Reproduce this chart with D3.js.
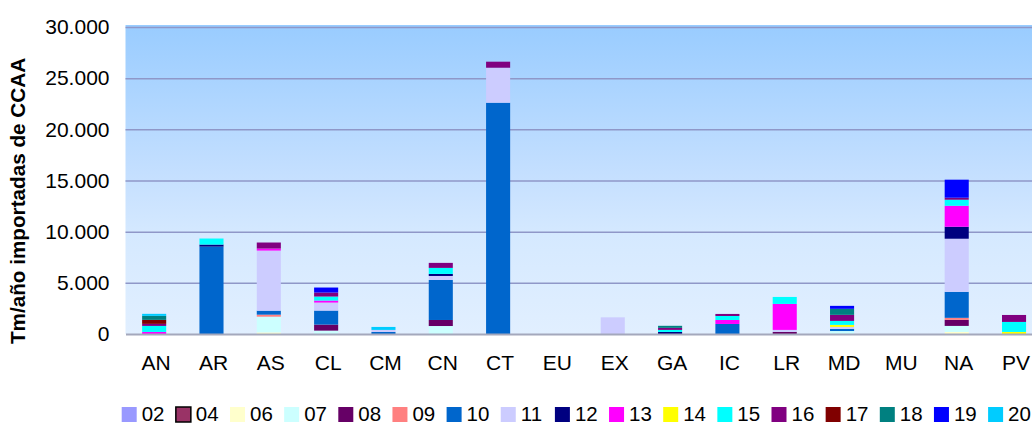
<!DOCTYPE html>
<html>
<head>
<meta charset="utf-8">
<script src="https://cdn.jsdelivr.net/npm/d3@7"></script>
<style>
  html, body { margin: 0; padding: 0; background: #fff; }
  svg { display: block; font-family: "Liberation Sans", Arial, sans-serif; }
</style>
</head>
<body>
<div id="chart"></div>
<script>
// Regions (CCAA) on the x axis.
const regions = ["AN", "AR", "AS", "CL", "CM", "CN", "CT", "EU", "EX", "GA", "IC", "LR", "MD", "MU", "NA", "PV"];

// Series codes, in stacking order (bottom to top).
const seriesKeys = ["02", "04", "06", "07", "08", "09", "10", "11", "12", "13", "14", "15", "16", "17", "18", "19", "20"];

// Values per series (Tm/año), one entry per region.
//                  AN   AR    AS    CL    CM   CN    CT     EU  EX    GA   IC   LR    MD   MU  NA    PV
const s02 = [       0,   0,    0,    0,    0,   0,    0,     0,  0,    0,   0,   0,    0,   0,  0,    0];
const s04 = [       0,   0,    0,    0,    0,   0,    0,     0,  0,    0,   0,   0,    0,   0,  0,    0];
const s06 = [       0,   0,    160,  0,    0,   0,    0,     0,  0,    0,   0,   0,    0,   0,  200,  0];
const s07 = [       0,   0,    1530, 330,  0,   780,  0,     0,  0,    0,   0,   0,    290, 0,  590,  0];
const s08 = [       0,   0,    0,    590,  0,   590,  0,     0,  0,    0,   0,   200,  0,   0,  590,  0];
const s09 = [       0,   0,    200,  0,    0,   0,    0,     0,  0,    0,   0,   0,    0,   0,  200,  0];
const s10 = [       0,   8540, 390,  1370, 200, 3910, 22600, 0,  0,    0,   980, 0,    200, 0,  2540, 0];
const s11 = [       0,   0,    5870, 780,  200, 390,  3420,  0,  1630, 0,   0,   200,  200, 0,  5190, 0];
const s12 = [       0,   200,  0,    0,    0,   200,  0,     0,  0,    200, 0,   0,    0,   0,  1170, 0];
const s13 = [       200, 0,    200,  200,  0,   0,    0,     0,  0,    0,   390, 2540, 0,   0,  2050, 0];
const s14 = [       0,   0,    0,    0,    0,   0,    0,     0,  0,    0,   0,   0,    200, 0,  0,    200];
const s15 = [       590, 590,  0,    390,  0,   590,  0,     0,  0,    200, 390, 680,  390, 0,  590,  980];
const s16 = [       200, 0,    590,  390,  0,   490,  590,   0,  0,    200, 200, 0,    590, 0,  200,  680];
const s17 = [       390, 0,    0,    0,    0,   0,    0,     0,  0,    0,   0,   0,    0,   0,  0,    0];
const s18 = [       390, 0,    0,    0,    0,   0,    0,     0,  0,    200, 0,   0,    590, 0,  0,    0];
const s19 = [       0,   0,    0,    490,  0,   0,    0,     0,  0,    0,   0,   0,    290, 0,  1760, 0];
const s20 = [       200, 0,    0,    0,    290, 0,    0,     0,  0,    0,   0,   0,    0,   0,  0,    0];

const seriesValues = [s02, s04, s06, s07, s08, s09, s10, s11, s12, s13, s14, s15, s16, s17, s18, s19, s20];

// Y axis tick values and their labels (Spanish thousands separator).
const yTicks = [0, 5000, 10000, 15000, 20000, 25000, 30000];
const yTickLabels = ["0", "5.000", "10.000", "15.000", "20.000", "25.000", "30.000"];

const yTitle = "Tm/año importadas de CCAA";

// Excel-style palette, one colour per series.
const seriesColors = ["#9999ff", "#993366", "#ffffcc", "#ccffff", "#660066", "#ff8080", "#0066cc", "#ccccff",
    "#000080", "#ff00ff", "#ffff00", "#00ffff", "#800080", "#800000", "#008080", "#0000ff", "#00ccff"];

function createStackedChart(width, height) {
    // Plot area (the right side runs past the window, as in the original).
    const plotLeft = 125.5;
    const plotRight = 1042.7;
    const plotTop = 27;
    const plotBottom = 334;

    // Build the table d3.stack needs from the named arrays.
    const table = regions.map((r, i) => {
        const row = { region: r };
        seriesKeys.forEach((k, j) => { row[k] = seriesValues[j][i]; });
        return row;
    });

    const stacked = d3.stack().keys(seriesKeys)(table);

    const x = d3.scaleBand()
        .domain(regions)
        .range([plotLeft, plotRight])
        .paddingInner(0.58)
        .paddingOuter(0.29);

    const y = d3.scaleLinear()
        .domain([0, 30000])
        .range([plotBottom, plotTop]);

    const color = d3.scaleOrdinal().domain(seriesKeys).range(seriesColors);

    const svg = d3.create("svg")
        .attr("width", width)
        .attr("height", height)
        .attr("viewBox", [0, 0, width, height]);

    // Vertical gradient for the plot background.
    const grad = svg.append("defs").append("linearGradient")
        .attr("id", "bg")
        .attr("x1", 0).attr("y1", 0).attr("x2", 0).attr("y2", 1);
    grad.append("stop").attr("offset", "0%").attr("stop-color", "#99ccff");
    grad.append("stop").attr("offset", "50%").attr("stop-color", "#c6e0ff");
    grad.append("stop").attr("offset", "68%").attr("stop-color", "#d5e9ff");
    grad.append("stop").attr("offset", "100%").attr("stop-color", "#e1efff");

    svg.append("rect")
        .attr("x", plotLeft)
        .attr("y", y(30000) - 2)
        .attr("width", plotRight - plotLeft)
        .attr("height", plotBottom - y(30000) + 2)
        .attr("fill", "url(#bg)");

    // Y axis: labels plus grid lines across the plot.
    svg.append("g")
        .attr("transform", `translate(${plotLeft},0)`)
        .call(d3.axisLeft(y).tickValues(yTicks).tickSize(0).tickPadding(16)
            .tickFormat((d, i) => yTickLabels[i]))
        .call(g => g.select(".domain").remove())
        .call(g => g.selectAll(".tick text")
            .attr("font-size", 21)
            .attr("font-family", "Liberation Sans, Arial, sans-serif")
            .attr("fill", "#000"))
        .call(g => g.selectAll(".tick").filter(d => d > 0).append("line")
            .attr("x2", plotRight - plotLeft)
            .attr("stroke", "#8f97c8")
            .attr("stroke-width", 1.5));

    // Stacked bars.
    svg.append("g")
        .selectAll("g")
        .data(stacked)
        .join("g")
        .attr("fill", d => color(d.key))
        .selectAll("rect")
        .data(d => d)
        .join("rect")
        .attr("x", d => x(d.data.region))
        .attr("y", d => y(d[1]))
        .attr("height", d => y(d[0]) - y(d[1]))
        .attr("width", x.bandwidth());

    // X axis: base line and region labels.
    svg.append("g")
        .attr("transform", `translate(0,${plotBottom})`)
        .call(d3.axisBottom(x).tickSize(0).tickPadding(21))
        .call(g => g.select(".domain")
            .attr("stroke", "#a4a8bc")
            .attr("stroke-width", 2))
        .call(g => g.selectAll(".tick text")
            .attr("font-size", 21)
            .attr("font-family", "Liberation Sans, Arial, sans-serif")
            .attr("fill", "#000")
            .attr("dx", 2));

    // Y axis title.
    svg.append("text")
        .attr("transform", `translate(25,${201}) rotate(-90)`)
        .attr("text-anchor", "middle")
        .attr("font-size", 20.7)
        .attr("font-weight", "bold")
        .attr("fill", "#000")
        .text(yTitle);

    // Legend along the bottom edge.
    const legend = svg.append("g")
        .selectAll("g")
        .data(seriesKeys)
        .join("g")
        .attr("transform", (d, i) => `translate(${121.7 + i * 54.15},407)`);

    legend.append("rect")
        .attr("width", 15)
        .attr("height", 15)
        .attr("fill", d => color(d))
        .attr("stroke", d => d === "04" ? "#000" : "none")
        .attr("stroke-width", 1.5);

    legend.append("text")
        .attr("x", 20)
        .attr("y", 14)
        .attr("font-size", 20.5)
        .attr("fill", "#000")
        .text(d => d);

    return svg.node();
}

document.getElementById("chart").appendChild(createStackedChart(1032, 423));
</script>
</body>
</html>
